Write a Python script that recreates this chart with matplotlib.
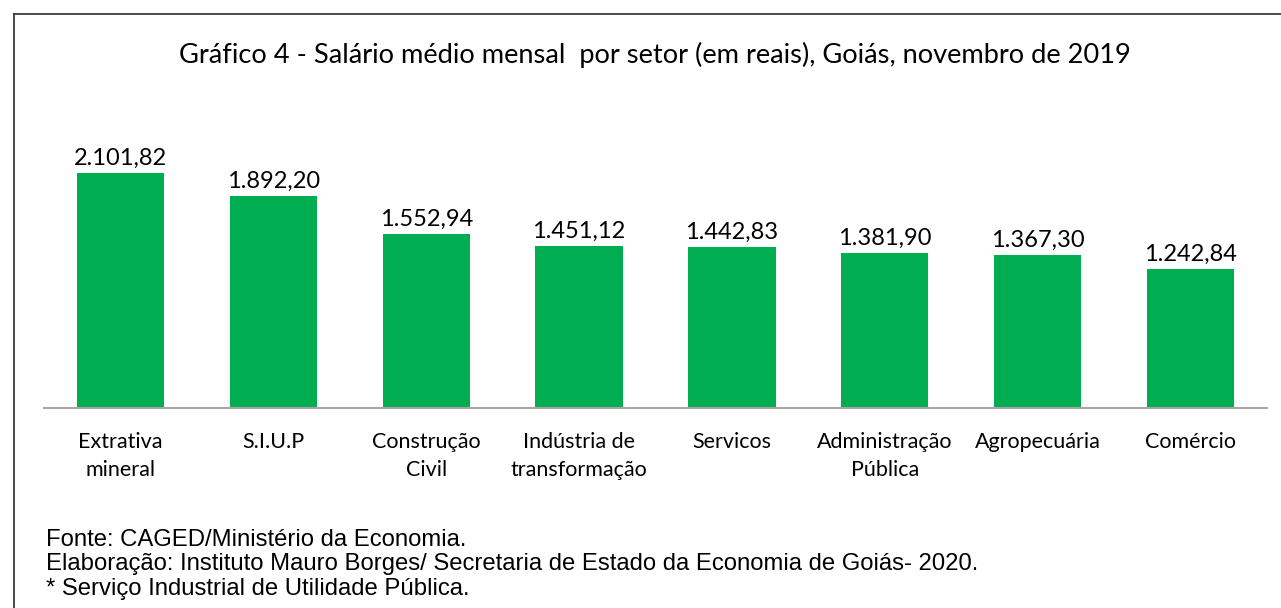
import matplotlib
matplotlib.use("Agg")
import matplotlib.pyplot as plt
from matplotlib.lines import Line2D

categories = ["Extrativa\nmineral", "S.I.U.P", "Construção\nCivil", "Indústria de\ntransformação",
              "Servicos", "Administração\nPública", "Agropecuária", "Comércio"]
values = [2101.82, 1892.20, 1552.94, 1451.12, 1442.83, 1381.90, 1367.30, 1242.84]
labels = ["2.101,82", "1.892,20", "1.552,94", "1.451,12", "1.442,83", "1.381,90", "1.367,30", "1.242,84"]

W, H = 1281, 608
fig = plt.figure(figsize=(W / 100, H / 100), dpi=100)
font = ["Lato", "DejaVu Sans"]

x0, x1 = 44, 1267
ybase, ytop = 408, 140
ax = fig.add_axes([x0 / W, 1 - ybase / H, (x1 - x0) / W, (ybase - ytop) / H])
ymax = 2101.82 * (ybase - ytop) / (408 - 173)
pos = list(range(len(values)))
ax.bar(pos, values, width=0.57, color="#00AD50")
ax.set_xlim(-0.5, len(values) - 0.5)
ax.set_ylim(0, ymax)
for p, v, l in zip(pos, values, labels):
    ax.annotate(l, (p, v), xytext=(0, 3), textcoords="offset points", ha="center", va="bottom",
                fontsize=17, family=font, color="#000000")
ax.set_xticks(pos)
ax.set_xticklabels(categories, fontsize=15.5, family=font, linespacing=1.45)
ax.tick_params(axis="x", length=0, pad=17.5)
ax.set_yticks([])
for s in ["top", "right", "left"]:
    ax.spines[s].set_visible(False)
ax.spines["bottom"].set_color("#A6A6A6")
ax.spines["bottom"].set_linewidth(1.5)

fig.text(655 / W, 1 - 55 / H, "Gráfico 4 - Salário médio mensal  por setor (em reais), Goiás, novembro de 2019",
         ha="center", va="center", fontsize=19.6, family=font)

foot = ["Fonte: CAGED/Ministério da Economia.",
        "Elaboração: Instituto Mauro Borges/ Secretaria de Estado da Economia de Goiás- 2020.",
        "* Serviço Industrial de Utilidade Pública."]
for i, t in enumerate(foot):
    fig.text(46 / W, 1 - (539.5 + i * 24.5) / H, t, ha="left", va="center", fontsize=17.2,
             family=["Liberation Sans", "DejaVu Sans"])

fig.add_artist(Line2D([13.5 / W, 13.5 / W], [0, 1 - 13.5 / H], transform=fig.transFigure, color="#3a3a3a", lw=1.3))
fig.add_artist(Line2D([13.5 / W, 1], [1 - 13.5 / H, 1 - 13.5 / H], transform=fig.transFigure, color="#3a3a3a", lw=1.3))

fig.savefig("out.png", dpi=100)
